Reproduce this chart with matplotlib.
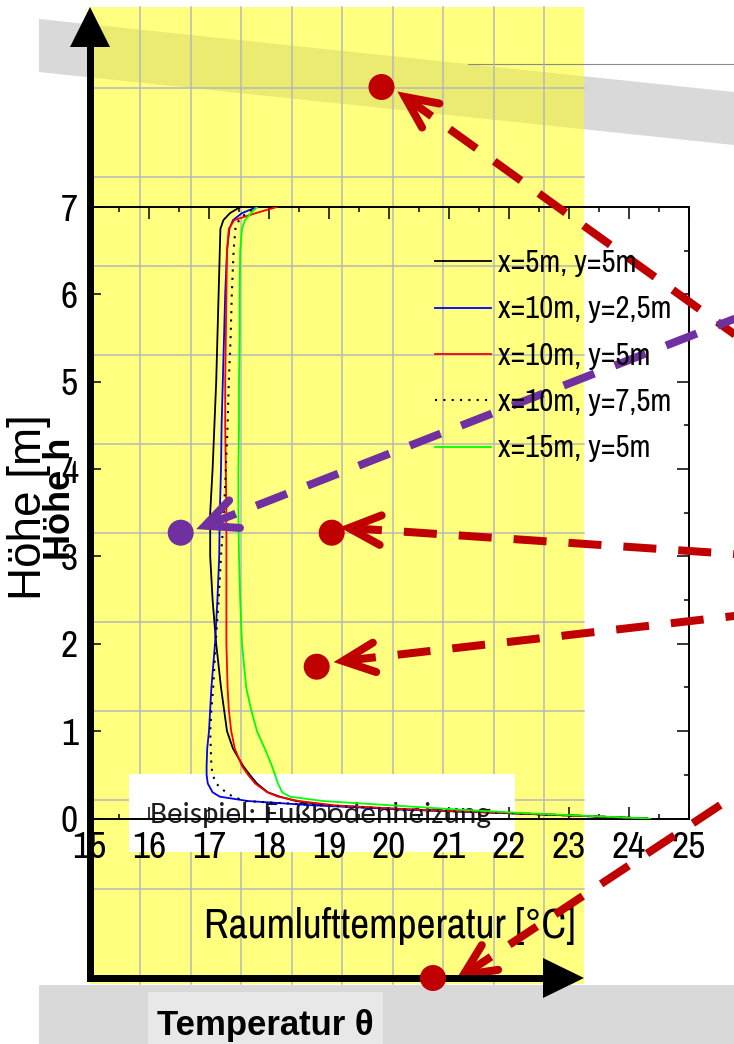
import numpy as np
import matplotlib
matplotlib.use("Agg")
import matplotlib.pyplot as plt
from matplotlib import font_manager as fm
from matplotlib.patches import Polygon, Rectangle, Circle
from matplotlib.ticker import MultipleLocator

avail = {f.name for f in fm.fontManager.ttflist}


def pick(*names):
    for n in names:
        if n in avail:
            return n
    return "DejaVu Sans"


NARROW = pick("Liberation Sans Narrow", "Arial Narrow", "Archivo Narrow", "PT Sans Narrow",
              "Roboto Condensed", "Liberation Sans")
ARIAL = pick("Liberation Sans", "Arimo", "Arial")
CALIBRI = pick("Carlito", "Calibri", "Open Sans", "Lato")
plt.rcParams["font.family"] = [NARROW, "DejaVu Sans"]

# ---------------- data ----------------
heights = [0.0, 0.03, 0.06, 0.10, 0.15, 0.20, 0.25, 0.30, 0.40, 0.50, 0.60, 0.80,
           1.0, 1.25, 1.5, 2.0, 2.5, 3.0, 3.5, 4.0, 4.5, 5.0, 5.5, 6.0, 6.5,
           6.75, 6.85, 6.93, 7.0]
t_x5_y5 = [24.30, 23.20, 22.00, 20.30, 19.00, 18.45, 18.18, 17.98, 17.80, 17.68, 17.57, 17.40,
           17.30, 17.25, 17.20, 17.12, 17.06, 17.02, 17.02, 17.06, 17.09, 17.12, 17.14, 17.16, 17.18,
           17.19, 17.24, 17.35, 17.52]
t_x10_y25 = [24.28, 23.20, 22.10, 20.40, 18.75, 17.65, 17.18, 17.06, 16.98, 16.96, 16.96, 16.97,
             17.00, 17.02, 17.04, 17.10, 17.14, 17.17, 17.18, 17.20, 17.21, 17.23, 17.25, 17.27, 17.30,
             17.34, 17.40, 17.55, 17.80]
t_x10_y5 = [24.30, 23.20, 22.10, 20.50, 19.10, 18.50, 18.15, 17.97, 17.77, 17.65, 17.55, 17.43,
            17.37, 17.33, 17.31, 17.29, 17.29, 17.29, 17.29, 17.28, 17.27, 17.27, 17.28, 17.29, 17.30,
            17.33, 17.42, 17.78, 18.13]
t_x10_y75 = [24.30, 23.20, 22.10, 20.40, 18.90, 17.60, 17.40, 17.28, 17.12, 17.06, 17.04, 17.03,
             17.02, 17.04, 17.07, 17.11, 17.16, 17.20, 17.25, 17.28, 17.31, 17.33, 17.36, 17.38, 17.41,
             17.44, 17.50, 17.62, 17.80]
t_x15_y5 = [24.35, 23.30, 22.30, 21.20, 20.05, 18.90, 18.35, 18.22, 18.15, 18.10, 18.05, 17.93,
            17.80, 17.70, 17.62, 17.55, 17.52, 17.50, 17.49, 17.49, 17.50, 17.50, 17.51, 17.51, 17.52,
            17.55, 17.60, 17.70, 17.80]
series_labels = ["x=5m, y=5m", "x=10m, y=2,5m", "x=10m, y=5m", "x=10m, y=7,5m", "x=15m, y=5m"]
series_temps = [t_x5_y5, t_x10_y25, t_x10_y5, t_x10_y75, t_x15_y5]
series_colors = ["#000000", "#0000ff", "#ff0000", "#000000", "#00ff00"]
series_styles = ["-", "-", "-", (0, (1, 3)), "-"]
x_ticks = list(range(15, 26))
y_ticks = list(range(0, 8))

# ---------------- figure ----------------
W, H = 734, 1044
fig = plt.figure(figsize=(W / 100, H / 100), dpi=100)

bg = fig.add_axes([0, 0, 1, 1], zorder=0)
bg.set_xlim(0, W)
bg.set_ylim(H, 0)
bg.axis("off")

# slanted grey band at top
band_pts = [(39, 19), (734, 92), (734, 145), (39, 72)]
bg.add_patch(Polygon(band_pts, closed=True, fc="#d9d9d9", ec="none", zorder=1))
yellow = Rectangle((89, 7), 495, 977, fc="#ffff80", ec="none", zorder=2)
bg.add_patch(yellow)
ov_band = Polygon(band_pts, closed=True, fc="#ebeb72", ec="none", zorder=3)
bg.add_patch(ov_band)
ov_band.set_clip_path(yellow)
bg.plot([468, 734], [64, 64], color="#8a8a8a", lw=0.8, zorder=3)

# background grid on the yellow sheet
for k in range(9):
    xg = 140 + 50.5 * k
    bg.plot([xg, xg], [7, 984], color="#b8b8b8", lw=1.1, zorder=4)
for k in range(10):
    yg = 88 + 89 * k
    bg.plot([89, 584], [yg, yg], color="#b8b8b8", lw=1.1, zorder=4)

# bottom grey band and label box
bg.add_patch(Rectangle((39, 985), 695, 59, fc="#d9d9d9", ec="none", zorder=1))
bg.add_patch(Rectangle((148, 992), 235, 52, fc="#e8e8e8", ec="none", zorder=2))
bg.text(265, 1035, "Temperatur θ", family=ARIAL, fontweight="bold", fontsize=25,
        ha="center", va="baseline", zorder=6)

# white note box
bg.add_patch(Rectangle((129, 774), 386, 78, fc="white", ec="none", zorder=5))
bg.text(150, 823, "Beispiel: Fußbodenheizung", family=CALIBRI, fontsize=22.5,
        color="#1e1e1e", ha="left", va="baseline", zorder=6)

# axis labels of the inner chart
bg.text(29, 507, "Höhe [m]", family=ARIAL, fontsize=33, rotation=90,
        ha="center", va="center", zorder=6)
bg.text(390, 938, "Raumlufttemperatur [°C]", family=NARROW, fontsize=30,
        ha="center", va="baseline", zorder=6)

# ---------------- inner chart ----------------
x0, x1, y_top, y_bot = 89, 689, 207, 818.5
ax = fig.add_axes([x0 / W, 1 - y_bot / H, (x1 - x0) / W, (y_bot - y_top) / H], zorder=1)
ax.patch.set_visible(False)
lines = []
for temps, col, ls, lab in zip(series_temps, series_colors, series_styles, series_labels):
    ln, = ax.plot(temps, heights, color=col, lw=1.3 if ls == "-" else 1.5, linestyle=ls,
                  label=lab, zorder=3)
    lines.append(ln)
ax.set_xlim(15, 25)
ax.set_ylim(0, 7)
ax.set_xticks(x_ticks)
ax.set_yticks(y_ticks)
ax.xaxis.set_minor_locator(MultipleLocator(0.5))
ax.yaxis.set_minor_locator(MultipleLocator(0.5))
ax.tick_params(which="both", direction="in", top=True, right=True, width=1.1, color="black")
ax.tick_params(which="major", length=8.6)
ax.tick_params(which="minor", length=3.6)
ax.tick_params(axis="x", which="major", labelsize=27, pad=9)
ax.tick_params(axis="y", which="major", labelsize=27, pad=8)
for s in ["top", "right", "bottom"]:
    ax.spines[s].set_linewidth(1.4)
ax.spines["left"].set_visible(False)

fig.legend(lines, series_labels, loc="upper left",
           bbox_to_anchor=(435 / W, 1 - 249 / H), frameon=False,
           prop={"family": NARROW, "size": 22}, handlelength=1.83,
           handletextpad=0.23, labelspacing=0.6, borderpad=0, borderaxespad=0)

# ---------------- overlay: arrows, dots ----------------
ov = fig.add_axes([0, 0, 1, 1], zorder=2)
ov.set_xlim(0, W)
ov.set_ylim(H, 0)
ov.axis("off")
ov.patch.set_visible(False)

RED = "#c00000"
PURPLE = "#7030a0"
arrows = [((405, 97), (734, 334), RED),
          ((205, 525.7), (734, 319), PURPLE),
          ((349, 528), (734, 554), RED),
          ((343, 661), (734, 616), RED),
          ((463.5, 975), (734, 796), RED)]
lw_px = 8.0
lw_pt = lw_px * 0.72
for (tx, ty), (ex, ey), col in arrows:
    ang = np.arctan2(ey - ty, ex - tx)
    fx, fy = tx + 1000 * np.cos(ang), ty + 1000 * np.sin(ang)
    ov.plot([tx, fx], [ty, fy], color=col, lw=lw_pt, dashes=(33 / lw_px, 22 / lw_px),
            dash_capstyle="butt", zorder=2)
    arms = []
    for d in (-25, 25):
        a = ang + np.deg2rad(d)
        arms.append((tx + 35 * np.cos(a), ty + 35 * np.sin(a)))
    ov.plot([arms[0][0], tx, arms[1][0]], [arms[0][1], ty, arms[1][1]], color=col,
            lw=lw_pt, solid_capstyle="round", solid_joinstyle="miter", zorder=3)

# thick coordinate arrows
ov.add_patch(Rectangle((86.5, 45), 7, 937, fc="black", ec="none", zorder=4))
ov.add_patch(Polygon([(70, 47), (110, 47), (90, 7)], closed=True, fc="black", ec="none", zorder=4))
ov.add_patch(Rectangle((86.5, 975), 458, 7, fc="black", ec="none", zorder=4))
ov.add_patch(Polygon([(543, 958), (543, 998), (584, 978)], closed=True, fc="black", ec="none", zorder=4))

dots = [((381.5, 87), RED), ((180.7, 532.7), PURPLE), ((331.7, 532.7), RED),
        ((316.7, 666.7), RED), ((433, 978), RED)]
for (cx, cy), col in dots:
    ov.add_patch(Circle((cx, cy), 13, fc=col, ec="none", zorder=5))

ov.text(61, 499, "Höhe h", family=ARIAL, fontweight="bold", fontsize=26, rotation=90,
        ha="center", va="center", zorder=6)

fig.savefig("out.png", dpi=100)
